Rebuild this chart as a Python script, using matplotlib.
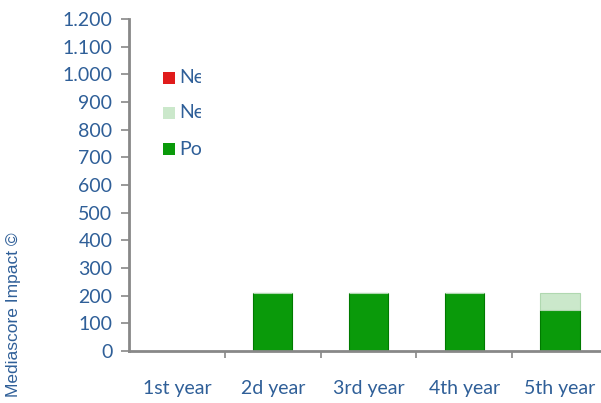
import matplotlib.pyplot as plt
import numpy as np
from matplotlib.transforms import Bbox

categories = ["1st year", "2d year", "3rd year", "4th year", "5th year"]
negative = [0, 0, 0, 0, 0]
neutral = [0, 0, 0, 0, 60]
positive = [0, 210, 210, 210, 150]
series_names = ["Negative", "Neutral", "Positive"]

blue = "#2f5f98"
gray = "#888888"
c_neg, c_neu, c_pos = "#e01b1b", "#cbe8cb", "#0a9a0a"

fig = plt.figure(figsize=(6.01, 4.03), dpi=100)
fig.patch.set_facecolor("white")
ax = fig.add_axes([129 / 601, 1 - 351 / 403, 479 / 601, 332 / 403])

x = np.arange(len(categories))
w = 0.41
pos = np.array(positive)
neu = np.array(neutral)
neg = np.array(negative)
ax.bar(x, pos, w, color=c_pos, edgecolor="#007a00", linewidth=0.8, zorder=2)
ax.bar(x, neu, w, bottom=pos, color=c_neu, edgecolor="#b0d8b0", linewidth=0.8, zorder=2)
ax.bar(x, neg, w, bottom=pos + neu, color=c_neg, edgecolor="none", zorder=2)

ax.set_xlim(-0.5, len(categories) - 0.5)
ax.set_ylim(0, 1200)
ax.set_yticks(np.arange(0, 1201, 100))
ax.set_yticklabels([f"{v:,}".replace(",", ".") for v in range(0, 1201, 100)])
ax.set_xticks(x)
ax.set_xticklabels(categories)
ax.set_xticks(np.arange(0.5, len(categories) - 0.5), minor=True)

for s in ["top", "right"]:
    ax.spines[s].set_visible(False)
for s in ["left", "bottom"]:
    ax.spines[s].set_color(gray)
    ax.spines[s].set_linewidth(2)

font = "Lato"
ax.tick_params(axis="y", colors=gray, labelcolor=blue, labelsize=14, length=6, width=1.2, pad=6)
ax.tick_params(axis="x", which="major", length=0, labelcolor=blue, labelsize=14, pad=21)
ax.tick_params(axis="x", which="minor", length=5, width=1.2, colors=gray)
for lbl in ax.get_xticklabels() + ax.get_yticklabels():
    lbl.set_fontfamily(font)

fig.text(14 / 601, 1 - 315 / 403, "Mediascore Impact \u00a9", rotation=90,
         ha="center", va="center", fontsize=12.5, color=blue, family="Liberation Sans")

# legend, cut off on the right like the original
clip = Bbox.from_extents(0, 0, 201, 403)
leg_colors = [c_neg, c_neu, c_pos]
leg_y = [78, 113, 149]
for name, col, yy in zip(series_names, leg_colors, leg_y):
    fy = 1 - yy / 403
    fig.patches.append(plt.Rectangle((163 / 601, fy - 6 / 403), 12 / 601, 12 / 403,
                                     transform=fig.transFigure, facecolor=col,
                                     edgecolor="none"))
    t = fig.text(179 / 601, fy, name, ha="left", va="center", fontsize=14,
                 color=blue, family=font)
    t.set_clip_box(clip)
    t.set_clip_on(True)

fig.savefig("out.png", dpi=100, facecolor="white")
